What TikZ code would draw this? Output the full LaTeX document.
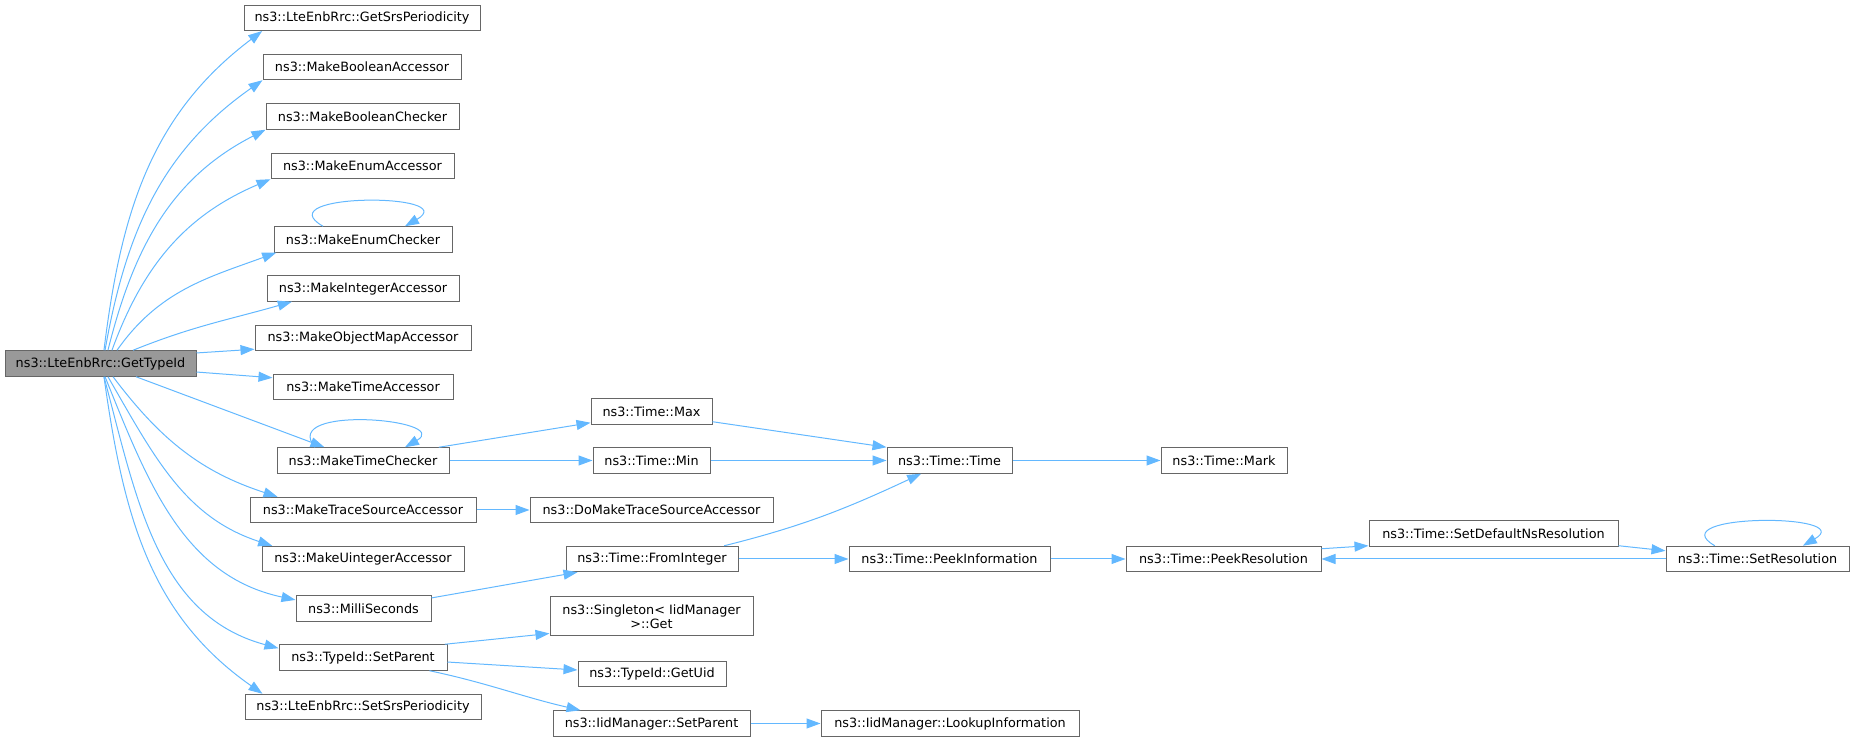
\documentclass[tikz,border=0pt]{standalone}
\usepackage{fontspec}
\setmainfont{DejaVu Sans}
\usetikzlibrary{arrows.meta}
\definecolor{callblue}{HTML}{63B8FF}
\definecolor{boxgrey}{HTML}{666666}
\definecolor{rootgrey}{HTML}{999999}

\begin{document}
\begin{tikzpicture}[x=0.75pt,y=0.75pt,
  fn/.style={draw=boxgrey,fill=white,line width=0.75pt,inner sep=0pt,
    minimum height=19.1pt,font=\fontsize{9.6}{10.75}\selectfont},
  rootfn/.style={fn,fill=rootgrey},
  call/.style={draw=callblue,line width=0.75pt,-{Triangle[length=10.5pt,width=7.5pt]}}]
\useasboundingbox (0,0) rectangle (1853,741);
% caller
\node[rootfn,minimum width=143.25pt] (root) at (100.5,377.5) {ns3::LteEnbRrc::GetTypeId};
% first column
\node[fn,minimum width=177pt] (gsp) at (362,723.2) {ns3::LteEnbRrc::GetSrsPeriodicity};
\node[fn,minimum width=148.5pt] (mba) at (362,674) {ns3::MakeBooleanAccessor};
\node[fn,minimum width=144.75pt] (mbc) at (362.5,624.5) {ns3::MakeBooleanChecker};
\node[fn,minimum width=137.25pt] (mea) at (362.5,575) {ns3::MakeEnumAccessor};
\node[fn,minimum width=133.5pt] (mec) at (363,501.5) {ns3::MakeEnumChecker};
\node[fn,minimum width=144pt] (mia) at (363,452.5) {ns3::MakeIntegerAccessor};
\node[fn,minimum width=162pt] (moma) at (363,403) {ns3::MakeObjectMapAccessor};
\node[fn,minimum width=135pt] (mta) at (363,354) {ns3::MakeTimeAccessor};
\node[fn,minimum width=129pt] (mtc) at (363,280.5) {ns3::MakeTimeChecker};
\node[fn,minimum width=169.5pt] (mtsa) at (363,231) {ns3::MakeTraceSourceAccessor};
\node[fn,minimum width=151.5pt] (mua) at (363,182) {ns3::MakeUintegerAccessor};
\node[fn,minimum width=101.25pt] (ms) at (363.5,132.5) {ns3::MilliSeconds};
\node[fn,minimum width=126pt] (tsp) at (363,83.5) {ns3::TypeId::SetParent};
\node[fn,minimum width=177pt] (ssp) at (363,34) {ns3::LteEnbRrc::SetSrsPeriodicity};
% second column
\node[fn,minimum width=90.75pt] (tmax) at (651.5,329.5) {ns3::Time::Max};
\node[fn,minimum width=87.75pt] (tmin) at (651.5,280.5) {ns3::Time::Min};
\node[fn,minimum width=182.25pt] (dmtsa) at (651.5,231) {ns3::DoMakeTraceSourceAccessor};
\node[fn,minimum width=129pt] (tfi) at (652,182) {ns3::Time::FromInteger};
\node[fn,minimum width=152.25pt,minimum height=29.25pt,align=center] (sing) at (651.5,124.5)
  {ns3::Singleton< IidManager\\>::Get};
\node[fn,minimum width=111pt] (gu) at (652,67) {ns3::TypeId::GetUid};
\node[fn,minimum width=147.75pt] (isp) at (651.5,17.5) {ns3::IidManager::SetParent};
% third column and beyond
\node[fn,minimum width=93.75pt] (tt) at (949.5,280.5) {ns3::Time::Time};
\node[fn,minimum width=150.75pt] (tpi) at (949.5,182) {ns3::Time::PeekInformation};
\node[fn,minimum width=193.5pt] (lui) at (950,17.5) {ns3::IidManager::LookupInformation};
\node[fn,minimum width=94.5pt] (tmark) at (1224,280.5) {ns3::Time::Mark};
\node[fn,minimum width=146.25pt] (tpr) at (1223.5,182) {ns3::Time::PeekResolution};
\node[fn,minimum width=186.75pt] (tsdr) at (1493.5,207.5) {ns3::Time::SetDefaultNsResolution};
\node[fn,minimum width=137.25pt] (tsr) at (1757.5,182) {ns3::Time::SetResolution};
% calls of GetTypeId
\draw[call] ([xshift=2.6pt]root.north) to[out=83,in=217] ([xshift=14pt]gsp.south west);
\draw[call] ([xshift=3.4pt]root.north) to[out=80,in=215] (mba.south west);
\draw[call] ([xshift=5.6pt]root.north) to[out=76,in=207] (mbc.south west);
\draw[call] ([xshift=8.6pt]root.north) to[out=70,in=203] (mea.south west);
\draw[call] ([xshift=12.4pt]root.north) to[out=55,in=200] ([xshift=2pt]mec.south west);
\draw[call] ([xshift=24.4pt]root.north) to[out=22,in=196] ([xshift=19pt]mia.south west);
\draw[call] ([yshift=7.9pt]root.east) -- ([yshift=1.5pt]moma.south west);
\draw[call] ([yshift=-6.4pt]root.east) -- ([yshift=-3pt]mta.north west);
\draw[call] ([xshift=26.6pt]root.south) -- ([xshift=36pt]mtc.north west);
\draw[call] ([xshift=9.4pt]root.south) to[out=-53,in=162] ([xshift=21pt]mtsa.north west);
\draw[call] ([xshift=5.6pt]root.south) to[out=-60,in=162] ([xshift=8pt]mua.north west);
\draw[call] ([xshift=3.4pt]root.south) to[out=-68,in=168] ([yshift=-3.5pt]ms.north west);
\draw[call] ([xshift=2.6pt]root.south) to[out=-75,in=165] ([yshift=-3pt]tsp.north west);
\draw[call] ([xshift=2.6pt]root.south) to[out=-82,in=145] ([xshift=13.5pt]ssp.north west);
% recursive ones
\draw[call] ([xshift=-30pt]mec.north) to[out=150,in=30,looseness=2.1] ([xshift=31.5pt]mec.north);
\draw[call] ([xshift=-36pt]mtc.north) to[out=130,in=30,looseness=1.6] ([xshift=31.5pt]mtc.north);
\draw[call] ([xshift=-32pt]tsr.north) to[out=150,in=30,looseness=1.9] ([xshift=34pt]tsr.north);
% further calls
\draw[call] ([xshift=-8pt]mtc.north east) -- ([yshift=1.5pt]tmax.south west);
\draw[call] (mtc.east) -- (tmin.west);
\draw[call] (mtsa.east) -- (dmtsa.west);
\draw[call] ([yshift=-2pt]ms.north east) -- ([xshift=9pt]tfi.south west);
\draw[call] ([xshift=-2pt]tsp.north east) -- ([yshift=2.25pt]sing.south west);
\draw[call] ([yshift=-3.4pt]tsp.east) -- ([yshift=3pt]gu.west);
\draw[call] ([xshift=-13.5pt]tsp.south east) to[out=-12,in=167] ([xshift=21pt]isp.north west);
\draw[call] ([yshift=2.25pt]tmax.south east) -- (tt.north west);
\draw[call] (tmin.east) -- (tt.west);
\draw[call] ([xshift=-10.7pt]tfi.north east) to[out=14,in=205] ([xshift=26pt]tt.south west);
\draw[call] (tfi.east) -- (tpi.west);
\draw[call] (isp.east) -- (lui.west);
\draw[call] (tt.east) -- (tmark.west);
\draw[call] (tpi.east) -- (tpr.west);
\draw[call] ([yshift=-2.25pt]tpr.north east) -- ([yshift=0.75pt]tsdr.south west);
\draw[call] ([yshift=0.75pt]tsdr.south east) -- ([yshift=-3.75pt]tsr.north west);
\draw[call] (tsr.west) -- (tpr.east); % back to PeekResolution
\end{tikzpicture}
\end{document}
